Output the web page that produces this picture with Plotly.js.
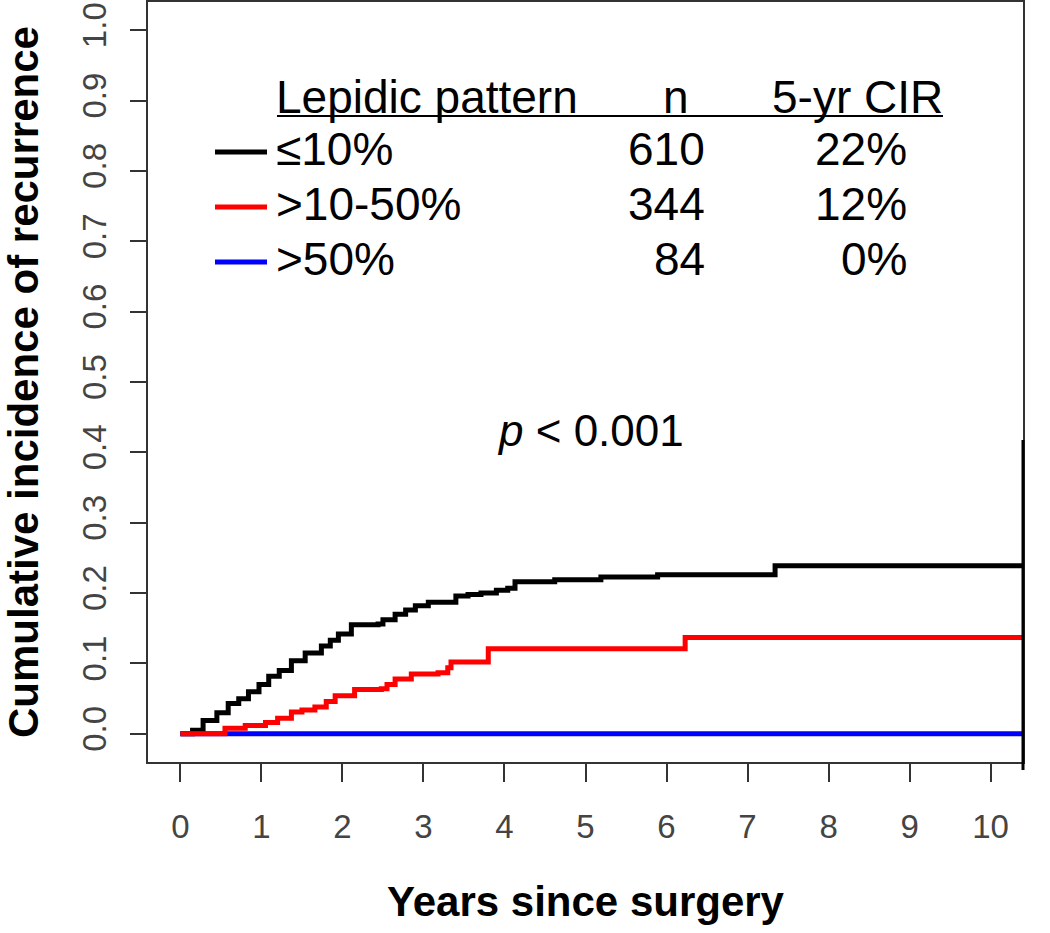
<!DOCTYPE html>
<html>
<head>
<meta charset="utf-8">
<script src="https://cdn.plot.ly/plotly-3.0.1.min.js"></script>
<style>html,body{margin:0;padding:0;background:#fff;}#chart{width:1050px;height:933px;}</style>
</head>
<body>
<div id="chart"></div>
<script>
// ---- data ----
var groupLabels = ['≤10%', '>10-50%', '>50%'];
var groupN = ['610', '344', '84'];
var groupCIR = ['22%', '12%', '0%'];
var groupColors = ['#000000', '#ff0000', '#0000ff'];

var blackTime = [0, 0.15, 0.28, 0.45, 0.59, 0.72, 0.84, 0.97, 1.09, 1.22, 1.37, 1.54, 1.74, 1.85, 1.95, 2.11, 2.44, 2.5, 2.65, 2.78, 2.9, 3.06, 3.4, 3.55, 3.71, 3.9, 4.04, 4.13, 4.62, 5.19, 5.89, 7.34, 10.4];
var blackCIR  = [0, 0.005, 0.019, 0.03, 0.043, 0.05, 0.06, 0.07, 0.082, 0.09, 0.104, 0.115, 0.125, 0.133, 0.142, 0.155, 0.156, 0.162, 0.17, 0.176, 0.182, 0.187, 0.196, 0.198, 0.2, 0.204, 0.207, 0.216, 0.219, 0.223, 0.226, 0.239, 0.239];

var redTime = [0, 0.55, 0.8, 1.05, 1.2, 1.37, 1.5, 1.66, 1.8, 1.91, 2.15, 2.48, 2.55, 2.65, 2.85, 3.18, 3.3, 3.34, 3.8, 6.23, 10.4];
var redCIR  = [0, 0.008, 0.012, 0.016, 0.022, 0.031, 0.034, 0.038, 0.046, 0.054, 0.063, 0.064, 0.07, 0.078, 0.085, 0.087, 0.094, 0.102, 0.121, 0.137, 0.137];

var blueTime = [0, 10.35, 10.4];
var blueCIR  = [0, 0, 0.002];

var xTicks = [0, 1, 2, 3, 4, 5, 6, 7, 8, 9, 10];
var yTicks = [0, 0.1, 0.2, 0.3, 0.4, 0.5, 0.6, 0.7, 0.8, 0.9, 1.0];
var yTickText = ['0.0', '0.1', '0.2', '0.3', '0.4', '0.5', '0.6', '0.7', '0.8', '0.9', '1.0'];
var pText = '<i>p</i> &lt; 0.001';

// ---- layout helpers ----
var W = 1050, H = 933;
var L = 148, R = 1023, T = 2, B = 762;
function px(x) { return (x - L) / (R - L); }
function py(y) { return (B - y) / (B - T); }
var FONT = 'Liberation Sans, Arial, Helvetica, sans-serif';

function stepTrace(x, y, color, name) {
  return { x: x, y: y, type: 'scatter', mode: 'lines', name: name,
    line: { shape: 'hv', color: color, width: 5 }, hoverinfo: 'skip', showlegend: false };
}
var traces = [
  stepTrace(blackTime, blackCIR, groupColors[0], groupLabels[0]),
  stepTrace(blueTime, blueCIR, groupColors[2], groupLabels[2]),
  stepTrace(redTime, redCIR, groupColors[1], groupLabels[1])
];

var annotations = [];
var shapes = [];
function ann(text, x, y, xanchor, size, extra) {
  var a = { text: text, xref: 'paper', yref: 'paper', x: px(x), y: py(y), xanchor: xanchor, yanchor: 'middle',
    showarrow: false, font: { family: FONT, size: size, color: '#000' } };
  if (extra) for (var k in extra) a[k] = extra[k];
  annotations.push(a);
}
// header
ann('Lepidic pattern', 274, 97, 'left', 46);
ann('n', 676, 97, 'center', 46);
ann('5-yr CIR', 945, 97, 'right', 46);
shapes.push({ type: 'line', xref: 'paper', yref: 'paper', x0: px(277), x1: px(943), y0: py(116), y1: py(116), line: { color: '#000', width: 2 } });
var rowY = [149, 204, 259];
for (var i = 0; i < groupLabels.length; i++) {
  shapes.push({ type: 'line', xref: 'paper', yref: 'paper', x0: px(215), x1: px(267), y0: py(rowY[i] + 3), y1: py(rowY[i] + 3), line: { color: groupColors[i], width: 5 } });
  ann(groupLabels[i], 274, rowY[i], 'left', 46);
  ann(groupN[i], 707, rowY[i], 'right', 46);
  ann(groupCIR[i], 909, rowY[i], 'right', 46);
}
ann(pText, 590, 430, 'center', 44);
// heavier segment on the right border near the curve ends
shapes.push({ type: 'line', xref: 'paper', yref: 'paper', x0: 1, x1: 1, y0: py(440), y1: py(770), line: { color: '#000', width: 3 } });

var layout = {
  width: W, height: H,
  margin: { l: L, r: W - R, t: T, b: H - B, pad: 0 },
  paper_bgcolor: '#fff', plot_bgcolor: '#fff',
  showlegend: false,
  font: { family: FONT, color: '#000' },
  xaxis: {
    range: [-0.4, 10.4], tickvals: xTicks, ticks: 'outside', ticklen: 18, tickwidth: 2, tickcolor: '#333',
    showgrid: false, zeroline: false, showline: true, mirror: true, linecolor: '#333', linewidth: 2,
    tickfont: { family: FONT, size: 33, color: '#444' }, ticklabelstandoff: 16,
    title: { text: '<b>Years since surgery</b>', font: { family: FONT, size: 42, color: '#000' }, standoff: 43 }
  },
  yaxis: {
    range: [-0.04, 1.04], tickvals: yTicks, ticktext: yTickText, ticks: 'outside', ticklen: 16, tickwidth: 2, tickcolor: '#333',
    tickangle: -90, showgrid: false, zeroline: false, showline: true, mirror: true, linecolor: '#333', linewidth: 2,
    tickfont: { family: FONT, size: 33, color: '#444' }, ticklabelstandoff: 11,
    title: { text: '<b>Cumulative incidence of recurrence</b>', font: { family: FONT, size: 42, color: '#000' }, standoff: 26 }
  },
  annotations: annotations,
  shapes: shapes
};
Plotly.newPlot('chart', traces, layout, { staticPlot: true, displayModeBar: false });
</script>
</body>
</html>
